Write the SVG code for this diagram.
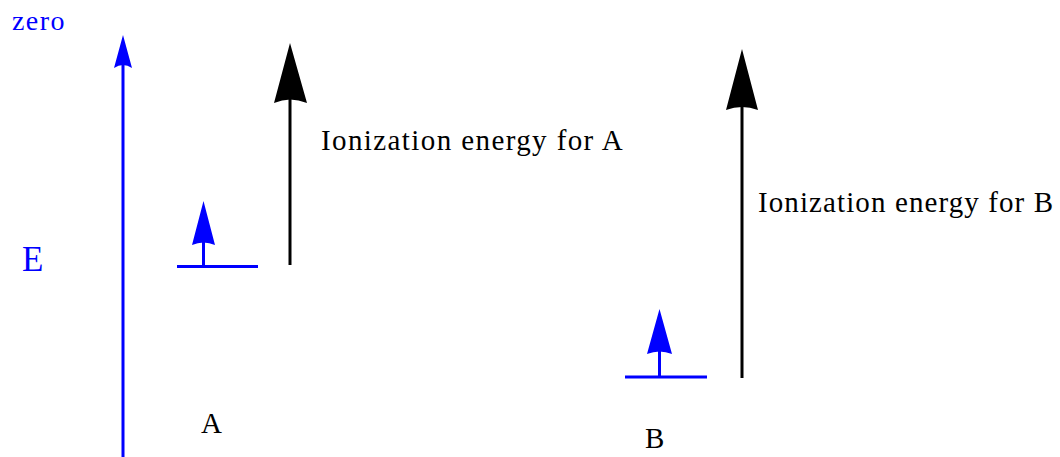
<svg xmlns="http://www.w3.org/2000/svg" width="1060" height="457" viewBox="0 0 1060 457">
<style>
text{font-family:"Liberation Serif","Times New Roman",serif;letter-spacing:1.4px}
.b{fill:#0000ff}
.k{fill:#000}
.bl{stroke:#0000ff;stroke-width:3;fill:none}
.kl{stroke:#000;stroke-width:3;fill:none}
</style>
<rect width="1060" height="457" fill="#fff"/>
<g id="axis">
<line class="bl" x1="123" y1="457" x2="123" y2="62"/>
<path class="b" d="M123,35 L132,68 Q123,62 114,68 Z"/>
<text class="b" x="12" y="30" font-size="28">zero</text>
<text class="b" x="22" y="271" font-size="35">E</text>
</g>
<g id="levelA">
<line class="bl" x1="177" y1="266.5" x2="258" y2="266.5"/>
<line class="bl" x1="203.5" y1="266" x2="203.5" y2="240"/>
<path class="b" d="M203.5,201 L215,245 Q203.5,240 192,245 Z"/>
<text class="k" x="201" y="433" font-size="29">A</text>
</g>
<g id="ieA">
<line class="kl" x1="290" y1="265" x2="290" y2="96"/>
<path class="k" d="M290,43 L307,103 Q290,96 274,103 Z"/>
<text class="k" x="321" y="150" font-size="29">Ionization energy for A</text>
</g>
<g id="levelB">
<line class="bl" x1="625" y1="377" x2="707" y2="377"/>
<line class="bl" x1="659.5" y1="377" x2="659.5" y2="350"/>
<path class="b" d="M659.5,309 L672,354 Q659.5,349 647,354 Z"/>
<text class="k" x="645" y="448" font-size="29">B</text>
</g>
<g id="ieB">
<line class="kl" x1="742" y1="378" x2="742" y2="104"/>
<path class="k" d="M742,49 L758,110 Q742,104 726,110 Z"/>
<text class="k" x="758" y="212" font-size="29" style="letter-spacing:1.1px">Ionization energy for B</text>
</g>
</svg>
